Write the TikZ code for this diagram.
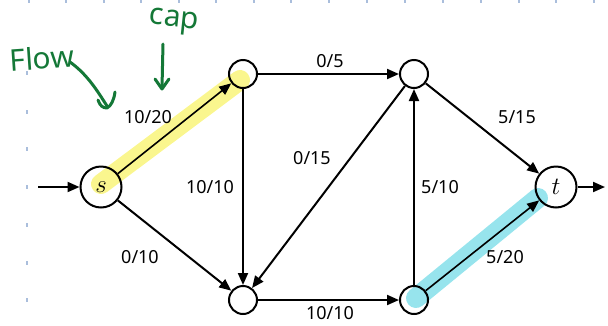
\documentclass[tikz,border=0pt]{standalone}
\usepackage{fontspec}
\setsansfont{Noto Sans}
\usetikzlibrary{arrows.meta}
\definecolor{hlyellow}{RGB}{250,245,130}
\definecolor{hlcyan}{RGB}{140,225,235}
\definecolor{inkgreen}{RGB}{20,120,55}
\definecolor{griddot}{RGB}{170,190,220}
\begin{document}
\begin{tikzpicture}[x=1pt,y=-1pt,
  vert/.style={circle,draw,line width=2pt,minimum size=28pt,inner sep=0pt},
  bigvert/.style={circle,draw,line width=2pt,minimum size=41pt,inner sep=0pt,font=\fontsize{25}{28}\selectfont},
  edge/.style={line width=2pt,-{Triangle[length=12pt,width=10pt]}},
  lbl/.style={font=\sffamily\fontsize{18}{22}\selectfont,inner sep=1pt},
  hand/.style={font=\sffamily\fontsize{30}{34}\selectfont,text=inkgreen},
  handarrow/.style={draw=inkgreen,line width=3pt,line cap=round,line join=round}]
\useasboundingbox (0,0) rectangle (608,325);
% faint grid marks
\foreach \x in {29,66,104,141,179,216,254,291,329,367,405,443,481,519,556,594}
  \fill[griddot] (\x-0.8,0) rectangle (\x+0.8,3);
\foreach \y in {73,112,149,187,225,263,300}
  \fill[griddot] (26.2,\y-2) rectangle (27.8,\y+2);
% highlights
\draw[hlyellow,line width=20pt,line cap=round,opacity=0.9] (101,184) -- (240,80);
\draw[hlcyan,line width=20pt,line cap=round,opacity=0.9] (416,298) -- (538,198);
% vertices
\node[bigvert] (s) at (101,187) {$s$};
\node[vert] (a) at (243,74) {};
\node[vert] (b) at (414,74) {};
\node[vert] (c) at (243,300) {};
\node[vert] (d) at (414,300) {};
\node[bigvert] (t) at (556,187) {$t$};
\coordinate (in) at (38,187);
\coordinate (out) at (605,187);
% edges
\draw[edge] (in) -- (s);
\draw[edge] (t) -- (out);
\draw[edge,line width=1.6pt] (s) -- (a);
\draw[edge] (a) -- (b);
\draw[edge] (a) -- (c);
\draw[edge] (b) -- (c);
\draw[edge] (d) -- (b);
\draw[edge] (b) -- (t);
\draw[edge] (s) -- (c);
\draw[edge] (c) -- (d);
\draw[edge,line width=1.6pt] (d) -- (t);
% labels
\node[lbl] (l1) at (148,117) {10/20};
\node[lbl] (l2) at (330,61) {0/5};
\node[lbl] (l3) at (312,158) {0/15};
\node[lbl] (l4) at (210,187) {10/10};
\node[lbl] (l5) at (440,187) {5/10};
\node[lbl] (l6) at (517,117) {5/15};
\node[lbl] (l7) at (140,257) {0/10};
\node[lbl] (l8) at (505,257) {5/20};
\node[lbl] (l9) at (330,313) {10/10};
% handwritten annotations
\node[hand,rotate=4,inner sep=0pt] (flow) at (42,58) {Flow};
\node[hand,rotate=-6,inner sep=0pt] (cap) at (174,22) {cap};
\draw[handarrow] (70,62) .. controls (88,75) and (98,92) .. (107,106);
\draw[handarrow] (98,100) .. controls (100,106) and (103,108) .. (107,108) .. controls (111,106) and (114,100) .. (115,92);
\draw[handarrow] (163,44) -- (162,88);
\draw[handarrow] (155,79) -- (162,89) -- (169,79);
\end{tikzpicture}
\end{document}
